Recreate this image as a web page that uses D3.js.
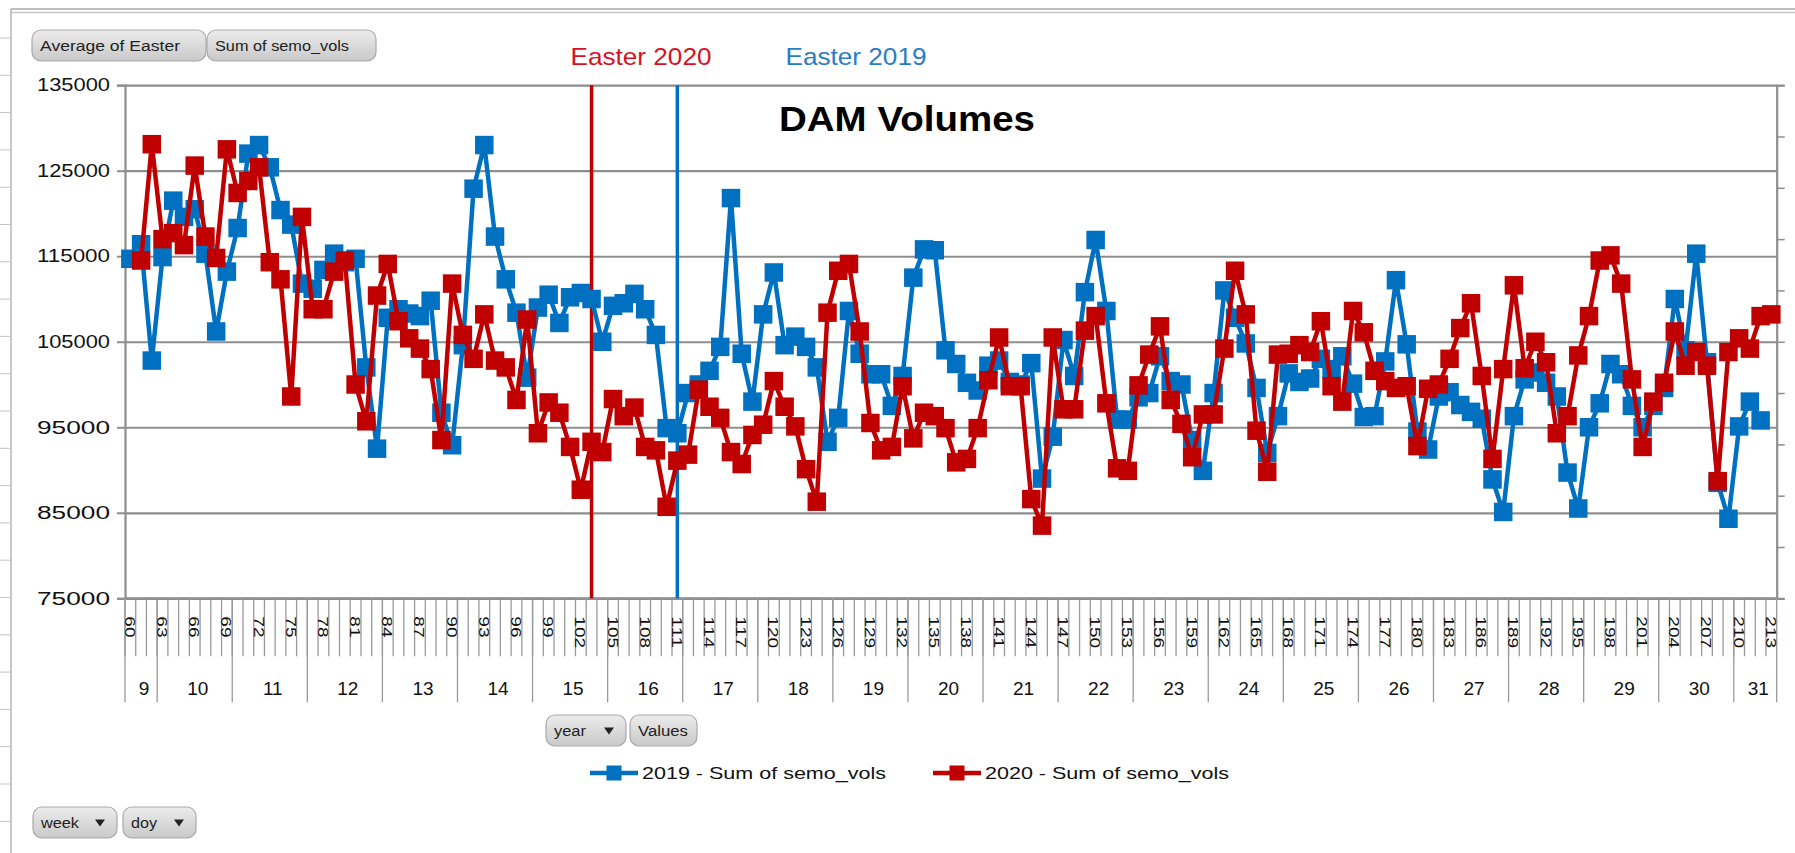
<!DOCTYPE html>
<html><head><meta charset="utf-8">
<script src="https://cdn.jsdelivr.net/npm/d3@7"></script>
<style>
html,body{margin:0;padding:0;background:#fff;}
svg{display:block;}
text{font-family:"Liberation Sans", Arial, sans-serif;}
</style></head><body>
<svg id="c" width="1795" height="853"></svg>
<script>
// ---------------- DATA ----------------
const doy = d3.range(60, 214);            // day-of-year categories 60..213
const weeks = [9,10,11,12,13,14,15,16,17,18,19,20,21,22,23,24,25,26,27,28,29,30,31];
const weekStart = [60,63,70,77,84,91,98,105,112,119,126,133,140,147,154,161,168,175,182,189,196,203,210];
const yTicks = [75000,85000,95000,105000,115000,125000,135000];
const easterDoy = [103, 111];
const easterLabels = ["Easter 2020", "Easter 2019"];
const seriesNames = ["2019 - Sum of semo_vols", "2020 - Sum of semo_vols"];

const vol2019 = [
114700,116400,102800,114900,121500,119600,120500,115300,106200,113200,
118300,127000,128000,125400,120400,118700,111800,111200,113400,115300,
114300,114700,102000,92500,107800,108800,108300,108000,109800,96700,
92900,104600,122900,128000,117300,112300,108400,100800,109000,110500,
107200,110200,110700,110000,105000,109200,109500,110600,108800,105800,
94900,94300,99000,100000,101600,104400,121800,103600,98000,108200,
113100,104600,105600,104400,102000,93300,96100,108600,103600,101200,
101200,97500,101000,112500,115800,115700,104000,102400,100200,99300,
102200,102800,100300,100000,102500,89000,93900,105200,101000,110800,
116900,108600,95900,95900,98500,99000,103300,100400,100000,93500,
89900,99000,111000,107800,104800,99600,92000,96300,101300,100300,
100700,103000,101800,103300,100100,96200,96300,102700,112200,104700,
94500,92400,98600,99100,97600,96800,96000,88900,85100,96300,
100600,101400,100200,98600,89700,85500,95000,97800,102400,101200,
97500,95000,97500,99600,110000,104000,115300,102600,88500,84300,
95100,98000,95800,null];

const vol2020 = [
null,114500,128100,117000,117700,116300,125600,117300,114800,127500,
122400,123800,125400,114300,112300,98600,119600,108800,108800,113200,
114500,100000,95700,110400,114100,107400,105400,104200,101800,93500,
111800,105800,103000,108200,102800,102000,98200,107600,94300,97900,
96700,92700,87700,93300,92100,98300,96300,97300,92700,92300,
85700,91100,91800,99400,97400,96100,92100,90700,94100,95300,
100400,97400,95100,90100,86300,108400,113300,114100,106200,95500,
92300,92700,99800,93700,96700,96300,94900,90900,91300,94900,
100500,105500,99800,99800,86600,83500,105500,97100,97100,106300,
108000,97800,90200,89900,99900,103500,106800,98200,95400,91500,
96500,96500,104200,113300,108200,94600,89800,103500,103600,104600,
103800,107400,99800,98000,108600,106100,101600,100400,99600,99800,
92800,99500,100000,103000,106600,109500,101000,91300,101800,111600,
101900,105000,102600,94300,96300,103400,108000,114500,115100,111800,
100600,92700,98000,100200,106200,102200,103800,102200,88700,103800,
105400,104200,108000,108200];

// ---------------- STYLE / LAYOUT ----------------
const C_BLUE = "#0070c0", C_RED = "#c00000", C_GRID = "#8e8e8e";
const L = 125, R = 1776.7, T = 85.2, B = 598.3;

const svg = d3.select("#c");

// spreadsheet frame remnants
svg.append("line").attr("x1",11).attr("x2",1795).attr("y1",9).attr("y2",9).attr("stroke","#a8a8a8").attr("stroke-width",1.5);
svg.append("line").attr("x1",11).attr("x2",1795).attr("y1",12.5).attr("y2",12.5).attr("stroke","#c8c8c8").attr("stroke-width",1.5);
svg.append("line").attr("x1",11).attr("x2",11).attr("y1",9).attr("y2",853).attr("stroke","#b4b4b4").attr("stroke-width",1.5);
for (let yy = 38; yy < 853; yy += 37.3) {
  svg.append("line").attr("x1",0).attr("x2",11).attr("y1",yy).attr("y2",yy).attr("stroke","#c4c4c4").attr("stroke-width",1);
}

// scales
const x = d3.scaleBand().domain(doy).range([L, R]).padding(0);
const cx = d => x(d) + x.bandwidth() / 2;
const y = d3.scaleLinear().domain([75000, 135000]).range([B, T]);
const y2 = d3.scaleLinear().domain([0, 1]).range([B, T]);

// gridlines
const grid = svg.append("g").attr("transform", `translate(${L},0)`)
  .call(d3.axisLeft(y).tickValues(yTicks).tickSize(-(R - L)).tickFormat(""));
grid.select(".domain").remove();
grid.selectAll("line").attr("stroke", C_GRID).attr("stroke-width", 2.2);

// left axis with labels
const ya = svg.append("g").attr("transform", `translate(${L},0)`)
  .call(d3.axisLeft(y).tickValues(yTicks).tickSize(8).tickPadding(7).tickFormat(d3.format("d")));
ya.select(".domain").attr("stroke", C_GRID).attr("stroke-width", 2.2);
ya.selectAll("line").attr("stroke", C_GRID).attr("stroke-width", 2);
ya.selectAll("text").attr("font-size", 18).attr("fill", "#111")
  .attr("textLength", 73).attr("lengthAdjust", "spacingAndGlyphs")
  .attr("font-family", "Liberation Sans, Arial, sans-serif");

// right (secondary) axis, no labels
const ra = svg.append("g").attr("transform", `translate(${R},0)`)
  .call(d3.axisRight(y2).ticks(10).tickSize(8).tickFormat(""));
ra.select(".domain").attr("stroke", C_GRID).attr("stroke-width", 2.2);
ra.selectAll("line").attr("stroke", C_GRID).attr("stroke-width", 1.5);

// bottom axis line
svg.append("line").attr("x1", L).attr("x2", R).attr("y1", B).attr("y2", B)
  .attr("stroke", C_GRID).attr("stroke-width", 2.2);

// category ticks
const catTicks = svg.append("g");
doy.forEach(d => {
  catTicks.append("line").attr("x1", x(d)).attr("x2", x(d)).attr("y1", B).attr("y2", B + 58)
    .attr("stroke", "#9a9a9a").attr("stroke-width", 1.3);
});
catTicks.append("line").attr("x1", R).attr("x2", R).attr("y1", B).attr("y2", B + 104)
  .attr("stroke", "#9a9a9a").attr("stroke-width", 1.3);
// week separators
weekStart.forEach(d => {
  svg.append("line").attr("x1", x(d)).attr("x2", x(d)).attr("y1", B).attr("y2", B + 104)
    .attr("stroke", "#9a9a9a").attr("stroke-width", 1.3);
});

// doy labels (every third category)
const xa = svg.append("g").attr("transform", `translate(0,${B})`)
  .call(d3.axisBottom(x).tickValues(doy.filter((d, i) => i % 3 === 0)).tickSize(0).tickPadding(0));
xa.select(".domain").remove();
xa.selectAll("text")
  .attr("font-size", 15).attr("fill", "#111")
  .attr("text-anchor", "start")
  .attr("dominant-baseline", "central")
  .attr("dy", null).attr("y", null)
  .attr("transform", "translate(0,18) rotate(90)")
  .attr("textLength", d => String(d).length * 10.6)
  .attr("lengthAdjust", "spacingAndGlyphs");

// week labels
weeks.forEach((w, k) => {
  const s = weekStart[k];
  const e = k + 1 < weekStart.length ? weekStart[k + 1] : doy[doy.length - 1] + 1;
  const x0 = x(s), x1 = (e > doy[doy.length - 1]) ? R : x(e);
  svg.append("text").attr("x", (x0 + x1) / 2 + 3).attr("y", 695)
    .attr("text-anchor", "middle").attr("font-size", 19).attr("fill", "#111").text(w);
});

// Easter marker lines
const eColors = [C_RED, C_BLUE];
easterDoy.forEach((d, k) => {
  svg.append("line").attr("x1", cx(d)).attr("x2", cx(d)).attr("y1", y2(1)).attr("y2", y2(0))
    .attr("stroke", eColors[k]).attr("stroke-width", 3.5);
});

// series
const line = d3.line().defined(v => v != null).x((v, i) => cx(doy[i])).y(v => y(v));
const series = [vol2019, vol2020];
const sColors = [C_BLUE, C_RED];
const MS = 18.5;
series.forEach((vals, k) => {
  svg.append("path").datum(vals).attr("d", line).attr("fill", "none")
    .attr("stroke", sColors[k]).attr("stroke-width", 4.5).attr("stroke-linejoin", "round");
  svg.append("g").selectAll("rect").data(vals.map((v, i) => ({v, d: doy[i]})).filter(p => p.v != null))
    .join("rect")
    .attr("x", p => cx(p.d) - MS / 2).attr("y", p => y(p.v) - MS / 2)
    .attr("width", MS).attr("height", MS).attr("fill", sColors[k]);
});

// title and annotations
svg.append("text").attr("x", 907).attr("y", 131).attr("text-anchor", "middle")
  .attr("font-size", 35).attr("font-weight", "bold").attr("fill", "#000")
  .attr("textLength", 256).attr("lengthAdjust", "spacingAndGlyphs").text("DAM Volumes");
const eTextColors = ["#d8121f", "#2b7cc6"];
const eTextX = [641, 856];
easterLabels.forEach((t, k) => {
  svg.append("text").attr("x", eTextX[k]).attr("y", 65).attr("text-anchor", "middle")
    .attr("font-size", 24).attr("fill", eTextColors[k])
    .attr("textLength", 141).attr("lengthAdjust", "spacingAndGlyphs").text(t);
});

// legend
const legX = [590, 933];
seriesNames.forEach((n, k) => {
  const g = svg.append("g");
  g.append("line").attr("x1", legX[k]).attr("x2", legX[k] + 48).attr("y1", 773).attr("y2", 773)
    .attr("stroke", sColors[k]).attr("stroke-width", 4.5);
  g.append("rect").attr("x", legX[k] + 24 - 7.5).attr("y", 773 - 7.5).attr("width", 15).attr("height", 15)
    .attr("fill", sColors[k]);
  g.append("text").attr("x", legX[k] + 52).attr("y", 779).attr("font-size", 17).attr("fill", "#111")
    .attr("textLength", 244).attr("lengthAdjust", "spacingAndGlyphs").text(n);
});

// pivot field buttons
const defs = svg.append("defs");
const gr = defs.append("linearGradient").attr("id", "btn").attr("x1", 0).attr("x2", 0).attr("y1", 0).attr("y2", 1);
gr.append("stop").attr("offset", "0%").attr("stop-color", "#ececec");
gr.append("stop").attr("offset", "100%").attr("stop-color", "#c9c9c9");
function button(bx, by, w, h, label, arrow, tl) {
  const g = svg.append("g");
  g.append("rect").attr("x", bx).attr("y", by).attr("width", w).attr("height", h)
    .attr("rx", 9).attr("fill", "url(#btn)").attr("stroke", "#a9a9a9").attr("stroke-width", 1.2);
  g.append("text").attr("x", bx + 8).attr("y", by + h / 2 + 5).attr("font-size", 14).attr("fill", "#222")
    .attr("textLength", tl).attr("lengthAdjust", "spacingAndGlyphs").text(label);
  if (arrow) {
    g.append("path").attr("d", `M${bx + w - 22},${by + h / 2 - 3} l10,0 l-5,7 z`).attr("fill", "#222");
  }
}
button(32, 30, 174, 31, "Average of Easter", false, 140);
button(207, 30, 169, 31, "Sum of semo_vols", false, 134);
button(546, 715, 80, 31, "year", true, 32);
button(630, 715, 67, 31, "Values", false, 50);
button(33, 807, 84, 31, "week", true, 38);
button(123, 807, 73, 31, "doy", true, 26);
</script>
</body></html>
